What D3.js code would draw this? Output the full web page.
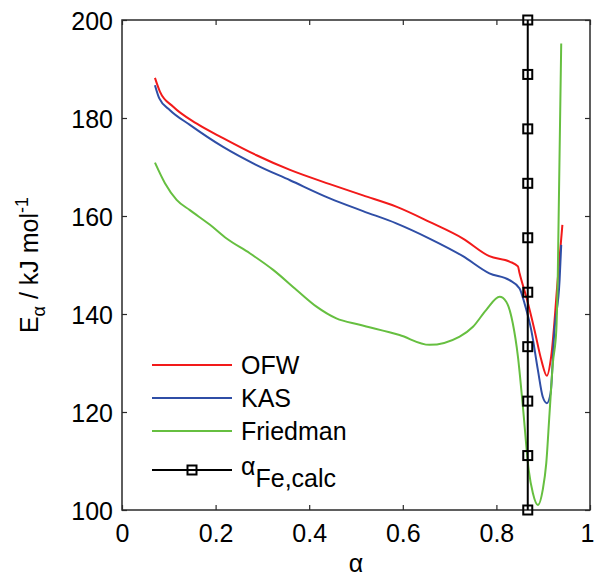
<!DOCTYPE html>
<html><head><meta charset="utf-8">
<script src="https://cdn.jsdelivr.net/npm/d3@7"></script>
<style>body{margin:0;background:#fff}svg{display:block;font-family:"Liberation Sans",Arial,sans-serif}</style>
</head><body><svg id="c" width="594" height="577"></svg>
<script>
const xTicks=[0,0.2,0.4,0.6,0.8,1];
const yTicks=[100,120,140,160,180,200];
const ofwA=[0.0704,0.081,0.1095,0.159,0.216,0.2875,0.359,0.444,0.515,0.586,0.657,0.7285,0.785,0.828,0.846,0.8495,0.8638,0.8815,0.896,0.9078,0.917,0.931,0.941];
const ofwE=[188.2,185.4,182.3,178.9,175.9,172.4,169.4,166.5,164.2,161.9,158.8,155.4,151.8,150.7,149.7,148.3,143.5,136.7,130.6,127.4,131.3,146.9,158.2];
const kasA=[0.0704,0.0797,0.1025,0.145,0.216,0.2875,0.359,0.444,0.515,0.586,0.657,0.7285,0.785,0.828,0.8495,0.86,0.8745,0.8886,0.899,0.9078,0.9157,0.924,0.935,0.9385];
const kasE=[186.7,184.0,181.6,178.6,174.1,170.4,167.3,163.6,161.0,158.5,155.4,151.8,148.3,146.9,145.2,142.2,136.7,128.6,123.1,121.8,123.8,136.7,146.9,154.1];
const friA=[0.0704,0.0918,0.1167,0.145,0.188,0.2235,0.273,0.323,0.373,0.4156,0.458,0.508,0.593,0.657,0.7215,0.75,0.778,0.807,0.821,0.835,0.846,0.8566,0.869,0.878,0.8886,0.899,0.9065,0.9135,0.9206,0.928,0.931,0.9385];
const friE=[170.9,166.7,163.3,161.2,158.2,155.4,152.4,149.0,144.9,141.5,139.1,137.8,135.7,133.7,135.4,137.4,140.8,143.5,142.5,138.1,131.3,121.1,108.2,103.4,101.0,104.1,109.5,119.7,129.9,136.7,146.9,195.2];
const calcA=0.867;
const calcE=[100,111.11,122.22,133.33,144.44,155.56,166.67,177.78,188.89,200];
const seriesNames=["OFW","KAS","Friedman"];
const colors=["#f21a1a","#2f4ea6","#66bf40"];

const svg=d3.select("#c");
const L=122,R=590,T=20,B=510;
const x=d3.scaleLinear().domain([0,1]).range([L,R]);
const y=d3.scaleLinear().domain([100,200]).range([B,T]);
const axC="#2a2a2a";
const fs=25;
svg.append("rect").attr("x",L).attr("y",T).attr("width",R-L).attr("height",B-T).attr("fill","none").attr("stroke",axC).attr("stroke-width",1.5);
const bx=svg.append("g").attr("transform",`translate(0,${B})`).call(d3.axisBottom(x).tickValues(xTicks).tickSize(-5).tickPadding(14).tickFormat(d=>d3.format("~g")(d)));
const tx=svg.append("g").attr("transform",`translate(0,${T})`).call(d3.axisTop(x).tickValues(xTicks).tickSize(-5).tickFormat(""));
const ly=svg.append("g").attr("transform",`translate(${L},0)`).call(d3.axisLeft(y).tickValues(yTicks).tickSize(-5).tickPadding(9));
const ry=svg.append("g").attr("transform",`translate(${R},0)`).call(d3.axisRight(y).tickValues(yTicks).tickSize(-5).tickFormat(""));
[bx,tx,ly,ry].forEach(g=>{g.select(".domain").remove();g.selectAll(".tick line").attr("stroke",axC).attr("stroke-width",1.2);g.selectAll("text").attr("fill","#000").style("font-size",fs+"px").style("font-family","'Liberation Sans',Arial,sans-serif");});
ly.selectAll("text").attr("dy","0.36em");
bx.selectAll(".tick text").filter(d=>d===1).attr("dx",-3);

const line=d3.line().x(d=>x(d[0])).y(d=>y(d[1])).curve(d3.curveMonotoneX);
const plot=svg.append("g");
const data=[d3.zip(ofwA,ofwE),d3.zip(kasA,kasE),d3.zip(friA,friE)];
data.forEach((d,i)=>plot.append("path").datum(d).attr("d",line).attr("fill","none").attr("stroke",colors[i]).attr("stroke-width",2));
plot.append("line").attr("x1",x(calcA)).attr("x2",x(calcA)).attr("y1",y(d3.min(calcE))).attr("y2",y(d3.max(calcE))).attr("stroke","#000").attr("stroke-width",2);
plot.selectAll("rect.m").data(calcE).enter().append("rect").attr("class","m")
 .attr("x",x(calcA)-4.5).attr("y",d=>y(d)-4.5).attr("width",9).attr("height",9).attr("fill","none").attr("stroke","#000").attr("stroke-width",2);

const lg=svg.append("g");
const lx1=152,lx2=232,tx0=241;
const ly0=[365,398,431];
seriesNames.forEach((n,i)=>{
 lg.append("line").attr("x1",lx1).attr("x2",lx2).attr("y1",ly0[i]).attr("y2",ly0[i]).attr("stroke",colors[i]).attr("stroke-width",2);
 lg.append("text").attr("x",tx0).attr("y",ly0[i]+9).style("font-size",fs+"px").text(n);
});
lg.append("line").attr("x1",lx1).attr("x2",lx2).attr("y1",470).attr("y2",470).attr("stroke","#000").attr("stroke-width",2);
lg.append("rect").attr("x",(lx1+lx2)/2-4.5).attr("y",465.5).attr("width",9).attr("height",9).attr("fill","none").attr("stroke","#000").attr("stroke-width",2);
const at=lg.append("text").attr("x",tx0).attr("y",475).style("font-size",fs+"px");
at.append("tspan").text("α");
at.append("tspan").attr("dy",12).text("Fe,calc");

svg.append("text").attr("x",(L+R)/2).attr("y",572).attr("text-anchor","middle").style("font-size",fs+"px").text("α");
const yl=svg.append("text").attr("transform",`translate(38,265) rotate(-90)`).attr("text-anchor","middle").style("font-size",fs+"px");
yl.append("tspan").text("E");
yl.append("tspan").attr("dy",7).style("font-size","18px").text("α");
yl.append("tspan").attr("dy",-7).text(" / kJ mol");
yl.append("tspan").attr("dy",-10).style("font-size","18px").text("-1");
</script></body></html>
